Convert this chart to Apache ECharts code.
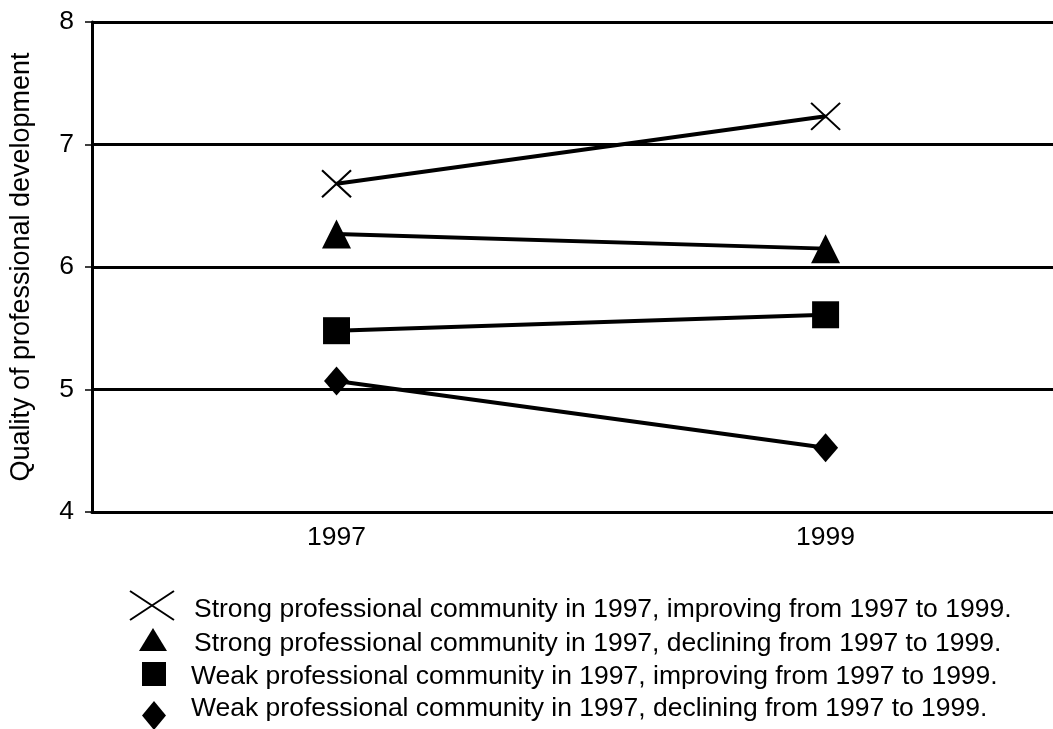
<!DOCTYPE html>
<html>
<head>
<meta charset="utf-8">
<script src="https://cdn.jsdelivr.net/npm/echarts@6/dist/echarts.min.js"></script>
<style>html,body{margin:0;padding:0;background:#fff}#c{width:1053px;height:729px}</style>
</head>
<body>
<div id="c"></div>
<script>
const years = ['1997', '1999'];
const seriesNames = [
  'Strong professional community in 1997, improving from 1997 to 1999.',
  'Strong professional community in 1997, declining from 1997 to 1999.',
  'Weak professional community in 1997, improving from 1997 to 1999.',
  'Weak professional community in 1997, declining from 1997 to 1999.'
];
const strongImproving = [6.68, 7.23];
const strongDeclining = [6.27, 6.15];
const weakImproving = [5.48, 5.61];
const weakDeclining = [5.07, 4.525];
const yTicks = [4, 5, 6, 7, 8];

const FONT = '"Liberation Sans", Arial, sans-serif';
const X_PATH = 'path://M0,0L10,10M0,10L10,0';
const X_LEG_PATH = 'path://M0,0L44,29M0,29L44,0';

const yearNums = years.map(Number);
const values = [strongImproving, strongDeclining, weakImproving, weakDeclining];
const symbols = [X_PATH, 'triangle', 'rect', 'diamond'];
const symbolSizes = [[29, 27], [29, 29], [27, 27], [25, 29]];

const series = seriesNames.map((name, i) => ({
  name: name,
  type: 'line',
  data: values[i].map((v, j) => [yearNums[j], v]),
  symbol: symbols[i],
  symbolSize: symbolSizes[i],
  showSymbol: true,
  animation: false,
  clip: false,
  lineStyle: { color: '#000', width: 4 },
  itemStyle: i === 0
    ? { color: '#000', borderColor: '#000', borderWidth: 2 }
    : { color: '#000', borderWidth: 0 },
  emphasis: { disabled: true },
  z: 3
}));

// icon boxes and text positions of the legend
const iconSpecs = [
  { icon: X_LEG_PATH, left: 129, top: 590, w: 44, h: 29, style: { color: '#000', borderColor: '#000', borderWidth: 2 } },
  { icon: 'triangle', left: 139, top: 628, w: 28, h: 23, style: { color: '#000' } },
  { icon: 'rect', left: 142, top: 662, w: 24, h: 24, style: { color: '#000' } },
  { icon: 'diamond', left: 142, top: 701, w: 24, h: 29, style: { color: '#000' } }
];
const textSpecs = [
  { left: 188, center: 610 },
  { left: 188, center: 644 },
  { left: 185, center: 677 },
  { left: 185, center: 709 }
];
const LEG_LH = 30;

const legends = [];
iconSpecs.forEach((s, i) => {
  legends.push({
    left: s.left, top: s.top, padding: 0,
    itemWidth: s.w, itemHeight: s.h,
    selectedMode: false,
    formatter: () => '',
    data: [{ name: seriesNames[i], icon: s.icon, itemStyle: s.style }],
    textStyle: { fontSize: 1 }
  });
});
textSpecs.forEach((t, i) => {
  legends.push({
    left: t.left, top: t.center - LEG_LH / 2, padding: 0,
    itemWidth: 1, itemHeight: 1,
    selectedMode: false,
    data: [{ name: seriesNames[i], icon: 'rect', itemStyle: { color: 'rgba(0,0,0,0)', borderWidth: 0 } }],
    textStyle: { fontFamily: FONT, fontSize: 26.5, color: '#000', lineHeight: LEG_LH }
  });
});

const chart = echarts.init(document.getElementById('c'), null, { renderer: 'canvas' });
chart.setOption({
  backgroundColor: '#fff',
  animation: false,
  legend: legends,
  grid: { left: 92, top: 22, right: 0, bottom: 217, containLabel: false },
  xAxis: {
    type: 'value',
    min: 1996,
    max: 1999.93,
    axisLine: { show: true, onZero: false, lineStyle: { color: '#000', width: 3 } },
    axisTick: { show: false },
    axisLabel: {
      customValues: yearNums,
      formatter: (v) => String(v),
      color: '#000', fontFamily: FONT, fontSize: 26.5, margin: 12
    },
    splitLine: { show: false }
  },
  yAxis: {
    type: 'value',
    min: yTicks[0],
    max: yTicks[yTicks.length - 1],
    interval: 1,
    name: 'Quality of professional development',
    nameLocation: 'middle',
    nameGap: 57,
    nameTextStyle: { color: '#000', fontFamily: FONT, fontSize: 27 },
    axisLine: { show: true, lineStyle: { color: '#000', width: 3 } },
    axisTick: { show: true, length: 7, lineStyle: { color: '#000', width: 1.5 } },
    axisLabel: { color: '#000', fontFamily: FONT, fontSize: 26.5, margin: 18 },
    splitLine: { show: true, lineStyle: { color: '#000', width: 3 } }
  },
  series: series
});
</script>
</body>
</html>
